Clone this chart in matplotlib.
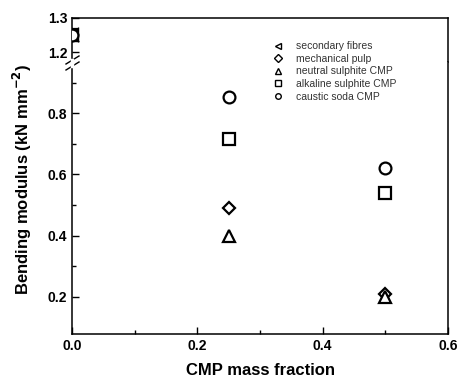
import matplotlib
matplotlib.use("Agg")
import matplotlib.pyplot as plt
from matplotlib.lines import Line2D
from matplotlib.ticker import MultipleLocator, FixedLocator

plt.rcParams['font.family'] = ['Liberation Sans', 'DejaVu Sans']

# data
series = ["secondary fibres", "mechanical pulp", "neutral sulphite CMP",
          "alkaline sulphite CMP", "caustic soda CMP"]
markers = ["<", "D", "^", "s", "o"]
fraction = [0.0, 0.25, 0.5]
secondary = [1.25, None, None]
mechanical = [1.25, 0.49, 0.21]
neutral = [1.25, 0.40, 0.20]
alkaline = [1.25, 0.715, 0.54]
caustic = [1.25, 0.855, 0.62]
values = [secondary, mechanical, neutral, alkaline, caustic]

fig = plt.figure(figsize=(4.59, 3.81), dpi=100)
left, right = 72 / 459, 448 / 459
ax_top = fig.add_axes([left, 1 - 62 / 381, right - left, 44 / 381])
ax = fig.add_axes([left, 1 - 334 / 381, right - left, (334 - 62) / 381])

for name, m, vals in zip(series, markers, values):
    xs = [x for x, v in zip(fraction, vals) if v is not None]
    ys = [v for v in vals if v is not None]
    msize = 8.5 if m != "D" else 6.5
    for a in (ax, ax_top):
        a.plot(xs, ys, linestyle="none", marker=m, markersize=msize,
               markerfacecolor="white", markeredgecolor="black",
               markeredgewidth=1.6, clip_on=True, zorder=3)

for a in (ax, ax_top):
    a.set_xlim(0, 0.6)
    a.tick_params(which="both", direction="in", top=False, right=False,
                  labelsize=10, width=1)
    a.tick_params(which="major", length=5)
    a.tick_params(which="minor", length=3)
    for s in a.spines.values():
        s.set_linewidth(1.1)

ax.set_ylim(0.078, 0.968)
ax.yaxis.set_minor_locator(FixedLocator([0.3, 0.5, 0.7, 0.9]))
ax.xaxis.set_minor_locator(MultipleLocator(0.1))
ax.spines["top"].set_visible(False)
ax.set_yticks([0.2, 0.4, 0.6, 0.8])
ax.set_yticklabels(["0.2", "0.4", "0.6", "0.8"], fontweight="bold")
ax.set_xticks([0.0, 0.2, 0.4, 0.6])
ax.set_xticklabels(["0.0", "0.2", "0.4", "0.6"], fontweight="bold")

ax_top.set_ylim(1.172, 1.3)
ax_top.set_yticks([1.2, 1.3])
ax_top.set_yticklabels(["1.2", "1.3"], fontweight="bold")
ax_top.spines["bottom"].set_visible(False)
ax_top.tick_params(axis="x", which="both", bottom=False, labelbottom=False)

ax.set_xlabel("CMP mass fraction", fontsize=12, fontweight="bold", labelpad=7)
fig.text(0.05, 0.53, "Bending modulus (kN mm$^{\\mathbf{-2}}$)", rotation=90,
         fontsize=12, fontweight="bold", ha="center", va="center")

# break marks on the left spine
for dy in (0, 6):
    y0 = 1 - (70 - dy) / 381
    fig.add_artist(Line2D([66 / 459, 79 / 459], [y0, y0 + 8 / 381],
                          color="black", lw=1.0))
fig.add_artist(Line2D([left, left], [1 - 66 / 381, 1 - 60 / 381],
                      color="white", lw=2.5))

handles = [Line2D([], [], linestyle="none", marker=m, markersize=4,
                  markerfacecolor="white", markeredgecolor="black",
                  markeredgewidth=1.0) for m in markers]
fig.legend(handles, series, loc="upper left", bbox_to_anchor=(268 / 459, 1 - 36 / 381),
           frameon=False, fontsize=7.5, labelspacing=0.25, handletextpad=1.2,
           handlelength=1.0, labelcolor="#333333", borderpad=0)

fig.savefig("out.png", dpi=100)
